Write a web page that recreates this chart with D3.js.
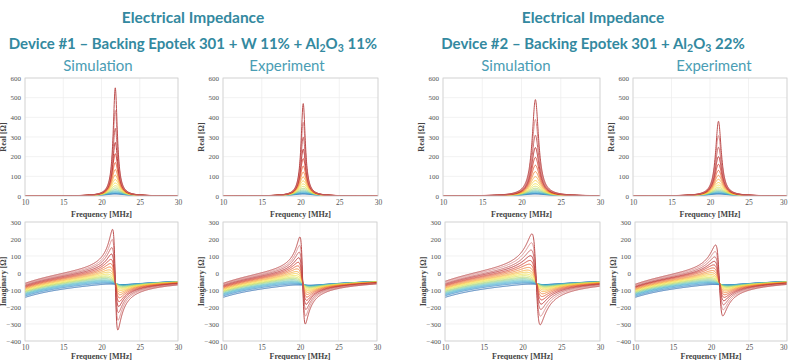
<!DOCTYPE html>
<html><head><meta charset="utf-8">
<script src="https://cdn.jsdelivr.net/npm/d3@7"></script>
<style>body{margin:0;background:#fff}svg{display:block}</style>
</head><body>
<svg id="chart" width="788" height="360"></svg>
<script>
// ---------- DATA ----------
const freqTicks = [10, 15, 20, 25, 30];
const realTicks = [0, 100, 200, 300, 400, 500, 600];
const imagTicks = [-400, -300, -200, -100, 0, 100, 200, 300];

const headingTitles = ["Electrical Impedance", "Electrical Impedance"];
const deviceTitles = [
  [["Device #1 – Backing Epotek 301 + W 11% + Al", 0], ["2", 1], ["O", 0], ["3", 1], [" 11%", 0]],
  [["Device #2 – Backing Epotek 301 + Al", 0], ["2", 1], ["O", 0], ["3", 1], [" 22%", 0]]
];
const panelTitles = ["Simulation", "Experiment", "Simulation", "Experiment"];

// one colour per curve, low-Q (blue) to high-Q (red / rose)
const curveColors = ["#2b6cb0","#2f86c4","#3aa0cf","#4db5cf","#66c4b8","#8ccf95","#b3da72","#d8e25a",
  "#f3e34c","#f9cc45","#f8ab3e","#f0863a","#e45f35","#d13d2f","#b82a2a","#c45a58","#d98888","#b84444"];

// capacitive background of the imaginary part: value [Ω] = capacitiveConst / f[MHz]
const capacitiveConst = -1450;

// Device #1 – simulation: resonance centre [MHz], peak real part [Ω], half width [MHz], left offset of imag [Ω]
const dev1SimCenter = 21.8;
const dev1SimPeaks  = [10, 12.7, 16, 20.3, 25.7, 32.5, 41.2, 52.1, 66, 83.5, 106, 134, 170, 215, 272, 344, 435, 550];
const dev1SimWidths = [1.6, 1.46, 1.33, 1.21, 1.1, 1.0, 0.91, 0.83, 0.76, 0.69, 0.63, 0.57, 0.52, 0.48, 0.43, 0.4, 0.36, 0.33];
const dev1SimShifts = [0, 8, 14, 19, 23, 28, 32, 35, 39, 43, 46, 50, 53, 56, 60, 63, 66, 69];

// Device #1 – experiment
const dev1ExpCenter = 20.35;
const dev1ExpPeaks  = [10, 12.5, 15.7, 19.7, 24.8, 31.1, 39, 48.9, 61.3, 76.9, 96.4, 121, 152, 190, 238, 299, 375, 470];
const dev1ExpWidths = [1.6, 1.46, 1.33, 1.21, 1.1, 1.0, 0.91, 0.83, 0.76, 0.69, 0.63, 0.57, 0.52, 0.48, 0.43, 0.4, 0.36, 0.33];
const dev1ExpShifts = [0, 8, 14, 19, 23, 28, 32, 35, 39, 43, 46, 50, 53, 56, 60, 63, 66, 69];

// Device #2 – simulation
const dev2SimCenter = 21.77;
const dev2SimPeaks  = [10, 12.6, 15.8, 19.9, 25, 31.4, 39.4, 49.6, 62.3, 78.3, 98.4, 124, 156, 196, 246, 309, 389, 490];
const dev2SimWidths = [1.8, 1.67, 1.55, 1.43, 1.33, 1.23, 1.14, 1.06, 0.98, 0.91, 0.84, 0.78, 0.72, 0.67, 0.62, 0.58, 0.54, 0.5];
const dev2SimShifts = [0, 9, 15, 20, 25, 30, 34, 39, 43, 47, 50, 54, 58, 61, 65, 68, 72, 75];

// Device #2 – experiment
const dev2ExpCenter = 21.1;
const dev2ExpPeaks  = [10, 12.4, 15.3, 19, 23.5, 29.2, 36.1, 44.7, 55.4, 68.6, 85, 105, 130, 161, 200, 248, 307, 380];
const dev2ExpWidths = [1.7, 1.57, 1.45, 1.35, 1.25, 1.15, 1.07, 0.99, 0.91, 0.84, 0.78, 0.72, 0.67, 0.62, 0.57, 0.53, 0.49, 0.45];
const dev2ExpShifts = [0, 7, 13, 17, 21, 25, 29, 32, 36, 39, 42, 45, 49, 52, 54, 57, 60, 63];

// ---------- LAYOUT ----------
const svg = d3.select("#chart");
const teal = "#3389a0", tealLight = "#4a9db4";
const serif = "'Liberation Serif','DejaVu Serif',serif";
const sans = "Lato,'Open Sans',sans-serif";

const columns = [
  {center: dev1SimCenter, peaks: dev1SimPeaks, widths: dev1SimWidths, shifts: dev1SimShifts, top: [25, 178], bot: [25, 178], title: panelTitles[0], tx: 98},
  {center: dev1ExpCenter, peaks: dev1ExpPeaks, widths: dev1ExpWidths, shifts: dev1ExpShifts, top: [223, 378], bot: [223, 377], title: panelTitles[1], tx: 287},
  {center: dev2SimCenter, peaks: dev2SimPeaks, widths: dev2SimWidths, shifts: dev2SimShifts, top: [443, 600], bot: [445, 600], title: panelTitles[2], tx: 516},
  {center: dev2ExpCenter, peaks: dev2ExpPeaks, widths: dev2ExpWidths, shifts: dev2ExpShifts, top: [633, 787], bot: [635, 787], title: panelTitles[3], tx: 714, lastEnd: true}
];
const rows = [
  {kind: "real", y: [196, 78], domain: [0, 600], ticks: realTicks, label: "Real [Ω]", tickY: 205, labY: 217},
  {kind: "imag", y: [341, 222], domain: [-400, 300], ticks: imagTicks, label: "Imaginary [Ω]", tickY: 350, labY: 359}
];

// ---------- HEADINGS ----------
[[193, 0], [593, 1]].forEach(([cx, i]) => {
  svg.append("text").attr("x", cx).attr("y", 23).attr("text-anchor", "middle")
    .attr("font-family", sans).attr("font-weight", 700).attr("font-size", 15.5).attr("fill", teal)
    .text(headingTitles[i]);
  const t = svg.append("text").attr("x", cx).attr("y", 49).attr("text-anchor", "middle")
    .attr("font-family", sans).attr("font-weight", 700).attr("font-size", 15).attr("fill", teal);
  deviceTitles[i].forEach(([s, sub]) => {
    const ts = t.append("tspan").text(s);
    if (sub) ts.attr("font-size", 10.5).attr("dy", 3);
    else if (t.selectAll("tspan").size() > 1) ts.attr("dy", -3);
  });
});
columns.forEach(c => {
  svg.append("text").attr("x", c.tx).attr("y", 71).attr("text-anchor", "middle")
    .attr("font-family", sans).attr("font-size", 15).attr("fill", tealLight).text(c.title);
});

// ---------- PANELS ----------
const freqs = d3.range(10, 30.0001, 0.02);
function response(f, A, g, D, f0) {
  const u = (f - f0) / g;
  const step = 1 / (1 + Math.exp((f - f0 + 0.5 * g) / (0.6 * g)));
  return {re: A / (1 + u * u), im: capacitiveConst / f + D * step - A * u / (1 + u * u)};
}

let clipId = 0;
columns.forEach(c => {
  rows.forEach(r => {
    const xr = r.kind === "real" ? c.top : c.bot;
    const x = d3.scaleLinear().domain([10, 30]).range(xr);
    const y = d3.scaleLinear().domain(r.domain).range(r.y);
    const g = svg.append("g");
    const w = xr[1] - xr[0], h = r.y[0] - r.y[1];
    g.append("rect").attr("x", xr[0]).attr("y", r.y[1]).attr("width", w).attr("height", h).attr("fill", "#fff");
    // grid
    g.selectAll(".gx").data(freqTicks).join("line").attr("x1", d => x(d)).attr("x2", d => x(d))
      .attr("y1", r.y[1]).attr("y2", r.y[0]).attr("stroke", "#ececec").attr("stroke-width", 0.7);
    g.selectAll(".gy").data(r.ticks).join("line").attr("y1", d => y(d)).attr("y2", d => y(d))
      .attr("x1", xr[0]).attr("x2", xr[1]).attr("stroke", "#ececec").attr("stroke-width", 0.7);
    // curves
    const id = "clip" + (clipId++);
    svg.append("clipPath").attr("id", id).append("rect").attr("x", xr[0]).attr("y", r.y[1]).attr("width", w).attr("height", h);
    const cg = g.append("g").attr("clip-path", `url(#${id})`);
    c.peaks.forEach((A, k) => {
      const pts = freqs.map(f => {
        const z = response(f, A, c.widths[k], c.shifts[k], c.center);
        return [f, r.kind === "real" ? z.re : z.im];
      });
      cg.append("path").attr("d", d3.line().x(d => x(d[0])).y(d => y(d[1]))(pts))
        .attr("fill", "none").attr("stroke", curveColors[k]).attr("stroke-width", 0.95);
    });
    // box
    g.append("rect").attr("x", xr[0]).attr("y", r.y[1]).attr("width", w).attr("height", h)
      .attr("fill", "none").attr("stroke", "#cfcfcf").attr("stroke-width", 0.8);
    // axes (labels only, MATLAB style)
    const ax = d3.axisBottom(x).tickValues(freqTicks).tickSize(0).tickPadding(0);
    const xa = g.append("g").attr("transform", `translate(0,${r.tickY - 3})`).call(ax);
    xa.select(".domain").remove();
    xa.selectAll("text").attr("font-family", serif).attr("font-size", 7.5).attr("fill", "#555").attr("dy", "0.35em");
    if (c.lastEnd) xa.selectAll("text").filter(d => d === 30).attr("text-anchor", "end");
    const ay = d3.axisLeft(y).tickValues(r.ticks).tickSize(0).tickPadding(4);
    const ya = g.append("g").attr("transform", `translate(${xr[0]},0)`).call(ay);
    ya.select(".domain").remove();
    ya.selectAll("text").attr("font-family", serif).attr("font-size", 7).attr("fill", "#555");
    // axis titles
    g.append("text").attr("x", (xr[0] + xr[1]) / 2).attr("y", r.labY).attr("text-anchor", "middle")
      .attr("font-family", serif).attr("font-weight", 700).attr("font-size", 8).attr("fill", "#444").text("Frequency [MHz]");
    g.append("text").attr("transform", `translate(${xr[0] - 19},${(r.y[0] + r.y[1]) / 2}) rotate(-90)`)
      .attr("text-anchor", "middle").attr("font-family", serif).attr("font-weight", 700)
      .attr("font-size", 8).attr("fill", "#444").text(r.label);
  });
});
</script>
</body></html>
